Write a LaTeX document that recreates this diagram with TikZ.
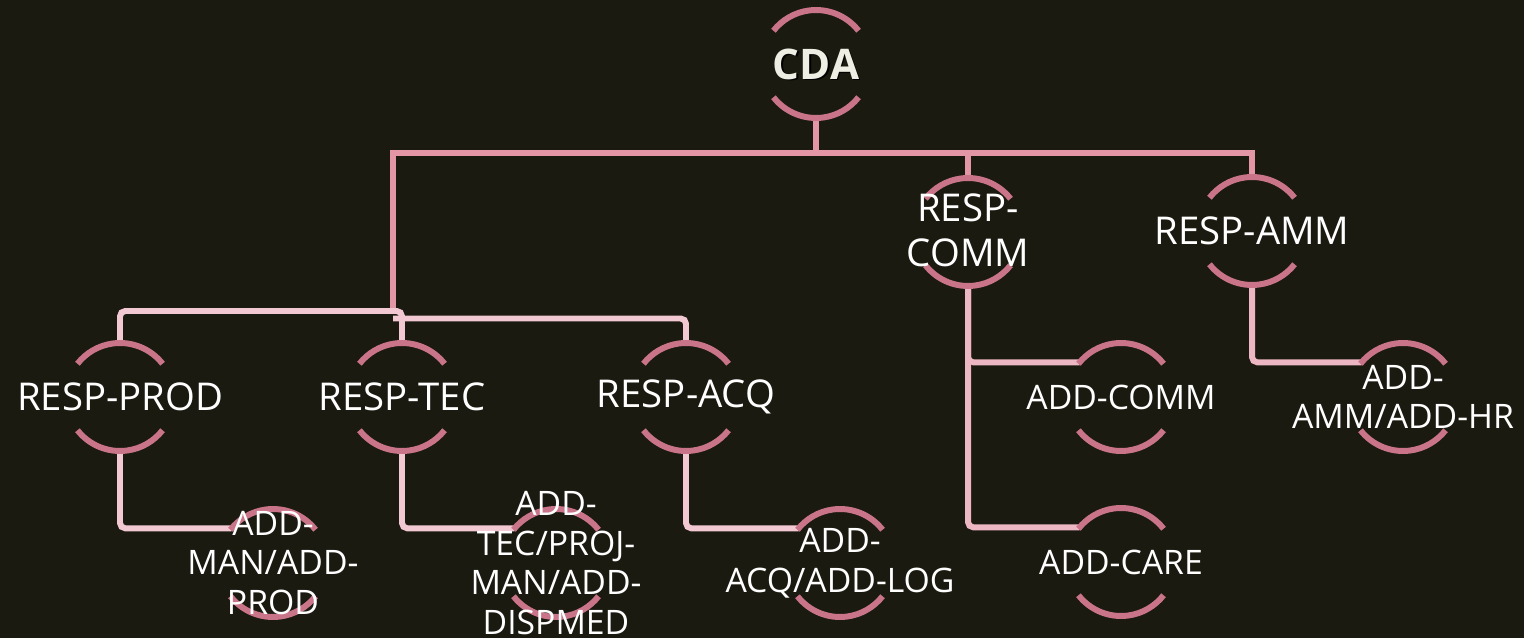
\documentclass[tikz,border=0pt]{standalone}
\usepackage{fontspec}
\setmainfont{Open Sans}
\usetikzlibrary{calc}
\definecolor{bgdark}{HTML}{1B1A10}
\definecolor{ringpink}{HTML}{C97488}
\definecolor{busupper}{HTML}{E396A6}
\definecolor{buslower}{HTML}{EDB6C3}
\definecolor{buslight}{HTML}{F2C8D2}
\definecolor{cdawhite}{HTML}{EEEEE4}

\begin{document}
\begin{tikzpicture}[%
        x = 0.02cm,
        y = -0.02cm,
        ring/.style = {circle, minimum size = 2.16cm, inner sep = 0pt, outer sep = 0pt},
        arcline/.style = {draw = ringpink, line width = 3.4pt},
        upline/.style = {draw = busupper, line width = 3.4pt},
        lowline/.style = {draw = buslower, line width = 3.4pt, rounded corners = 3pt},
        lightline/.style = {draw = buslight, line width = 3.4pt, rounded corners = 3pt},
        resp/.style = {text = white, align = center, font = \fontsize{21.8}{25.3}\selectfont},
        addt/.style = {text = white, align = center, font = \fontsize{19.2}{22.6}\selectfont},
        ]

\useasboundingbox[fill = bgdark] (0,0) rectangle (1524,638);

% rings
\node (cda)   [ring] at (816,64)   {};
\node (rcomm) [ring] at (968,232)  {};
\node (ramm)  [ring] at (1252,231) {};
\node (rprod) [ring] at (120,397)  {};
\node (rtec)  [ring] at (402,397)  {};
\node (racq)  [ring] at (686,397)  {};
\node (acomm) [ring] at (1121,397) {};
\node (aamm)  [ring] at (1403,397) {};
\node (aman)  [ring] at (273,563)  {};
\node (atec)  [ring] at (556,563)  {};
\node (aacq)  [ring] at (840,563)  {};
\node (acare) [ring] at (1121,562) {};

\coordinate (tecHub) at (393,311);

% connectors
\draw[upline] (cda.south) -- ++(0,35) -| (tecHub);
\draw[upline] (cda.south) -- ++(0,35) -| (rcomm.north);
\draw[upline] (cda.south) -- ++(0,35) -| (ramm.north);

\draw[lightline] (tecHub) -| (rprod.north);
\draw[lightline] (tecHub) -| (rtec.north);
\draw[lightline] ([yshift = -0.15cm]tecHub) -| (racq.north);

\draw[lightline] (rprod.south) |- (aman.140);
\draw[lightline] (rtec.south) |- (atec.140);
\draw[lightline] (racq.south) |- (aacq.140);

\draw[lowline] (rcomm.south) |- (acomm.140);
\draw[lowline] (rcomm.south) |- (acare.140);
\draw[lowline] (ramm.south) |- (aamm.140);

\foreach \RING in {cda,rcomm,ramm,rprod,rtec,racq,acomm,aamm,aman,atec,aacq,acare}{
    \draw[arcline] (\RING.38) arc[start angle = 38, end angle = 142, radius = 1.08cm];
    \draw[arcline] (\RING.218) arc[start angle = 218, end angle = 322, radius = 1.08cm];
    }

% labels
\node (cdaT) [text = black, font = \fontsize{24}{28}\selectfont\bfseries] at ([xshift = 1pt, yshift = -1pt]cda) {CDA};
\node (cdaL) [text = cdawhite, font = \fontsize{24}{28}\selectfont\bfseries] at (cda) {CDA};
\node (rcommL) [resp] at ([yshift = 1pt]rcomm) {RESP-\\COMM};
\node (rammL)  [resp] at (ramm)  {RESP-AMM};
\node (rprodL) [resp] at (rprod) {RESP-PROD};
\node (rtecL)  [resp] at (rtec)  {RESP-TEC};
\node (racqL)  [resp] at (racq)  {RESP-ACQ};

\node (acommL) [addt] at (acomm) {ADD-COMM};
\node (aammL)  [addt] at (aamm)  {ADD-\\AMM/ADD-HR};
\node (amanL)  [addt] at (aman)  {ADD-\\MAN/ADD-\\PROD};
\node (atecL)  [addt] at (atec)  {ADD-\\TEC/PROJ-\\MAN/ADD-\\DISPMED};
\node (aacqL)  [addt] at (aacq)  {ADD-\\ACQ/ADD-LOG};
\node (acareL) [addt] at (acare) {ADD-CARE};

\end{tikzpicture}
\end{document}
